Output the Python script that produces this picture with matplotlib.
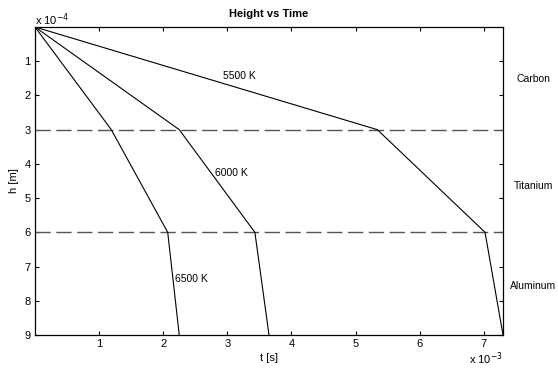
import matplotlib
matplotlib.use("Agg")
import matplotlib.pyplot as plt
import numpy as np

# height layers [m] and time [s] at which each temperature curve reaches them
h_pts = np.array([0.0, 3e-4, 6e-4, 9e-4])
t_5500 = np.array([0.0, 5.34e-3, 7.02e-3, 7.30e-3])
t_6000 = np.array([0.0, 2.25e-3, 3.43e-3, 3.65e-3])
t_6500 = np.array([0.0, 1.19e-3, 2.07e-3, 2.25e-3])

curve_labels = ["5500 K", "6000 K", "6500 K"]
label_pos = [(2.93e-3, 1.43e-4), (2.81e-3, 4.27e-4), (2.19e-3, 7.37e-4)]

layer_bounds = [3e-4, 6e-4]
materials = ["Carbon", "Titanium", "Aluminum"]
material_h = [1.53e-4, 4.65e-4, 7.57e-4]

XS, YS = 1e3, 1e4   # display scaling (x 10^-3, x 10^-4)

plt.rcParams["font.family"] = ["Liberation Sans", "DejaVu Sans"]

fig = plt.figure(figsize=(5.58, 3.70), dpi=100)
ax = fig.add_axes([35 / 558, 1 - 335 / 370, 468 / 558, 308 / 370])

for hb in layer_bounds:
    ax.plot([0, 7.3], [hb * YS, hb * YS], color="#555555", lw=1.0,
            dashes=(11, 4))

for t in (t_5500, t_6000, t_6500):
    ax.plot(t * XS, h_pts * YS, color="black", lw=0.8)

for lab, (tx, hy) in zip(curve_labels, label_pos):
    ax.text(tx * XS, hy * YS, lab, fontsize=7.5, va="center", ha="left")

for m, hy in zip(materials, material_h):
    ax.text(7.77, hy * YS, m, fontsize=7.5, va="center", ha="center",
            clip_on=False)

ax.set_xlim(0, 7.3)
ax.set_ylim(9, 0)
ax.set_xticks(range(1, 8))
ax.set_yticks(range(1, 10))
ax.tick_params(direction="in", top=True, right=True, length=3, width=0.8,
               labelsize=8, pad=3)
for s in ax.spines.values():
    s.set_linewidth(0.9)

ax.set_title("Height vs Time", fontsize=8, fontweight="bold", pad=7)
ax.set_xlabel("t [s]", fontsize=8, labelpad=3)
ax.set_ylabel("h [m]", fontsize=8, labelpad=4)

ax.text(0, 1.008, r"x 10$^{-4}$", transform=ax.transAxes, fontsize=8,
        ha="left", va="baseline")
ax.text(1.0, -0.094, r"x 10$^{-3}$", transform=ax.transAxes, fontsize=8,
        ha="right", va="baseline")

fig.savefig("out.png", dpi=100)
